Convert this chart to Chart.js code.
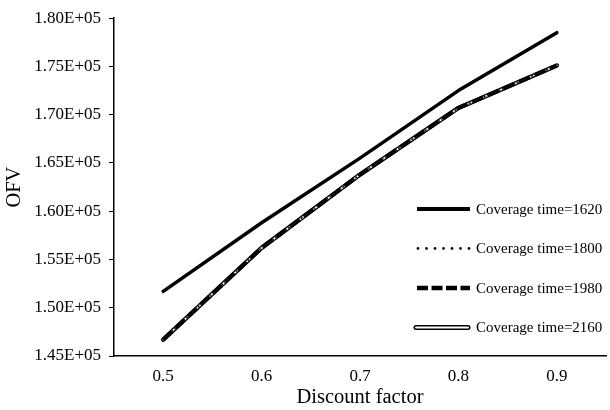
<!DOCTYPE html>
<html>
<head>
<meta charset="utf-8">
<script src="https://cdn.jsdelivr.net/npm/chart.js@4"></script>
<style>
  body { margin: 0; background: #fff; }
  #wrap { width: 610px; height: 410px; }
</style>
</head>
<body>
<div id="wrap"><canvas id="ofvChart" width="610" height="410"></canvas></div>
<script>
// data
const discountFactors = ['0.5', '0.6', '0.7', '0.8', '0.9'];
const ofv1620 = [151700, 158800, 165500, 172500, 178500];
const ofv1800 = [146700, 156200, 163800, 170700, 175100];
const ofv1980 = [146700, 156200, 163800, 170700, 175100];
const ofv2160 = [146700, 156200, 163800, 170700, 175100];
const yMin = 145000, yMax = 180000, yStep = 5000;

const serif = "'Liberation Serif', 'Times New Roman', serif";
Chart.defaults.font.family = serif;
Chart.defaults.color = '#000';

// 1.80E+05 style labels
function sciLabel(v) {
    const exp = Math.floor(Math.log10(Math.abs(v)));
    const mant = (v / Math.pow(10, exp)).toFixed(2);
    return mant + 'E+' + String(exp).padStart(2, '0');
}

// legend drawn inside the plot, on the right
const legendPlugin = {
    id: 'sideLegend',
    afterDraw(chart) {
        const ctx = chart.ctx;
        const items = chart.data.datasets.filter(d => d.legendKind);
        ctx.save();
        items.forEach((d, i) => {
            const y = 209 + i * 39.5;
            const x0 = 417, x1 = 470;
            ctx.lineCap = 'butt';
            ctx.setLineDash([]);
            if (d.legendKind === 'solid') {
                ctx.strokeStyle = '#000';
                ctx.lineWidth = 4;
                ctx.beginPath(); ctx.moveTo(x0, y); ctx.lineTo(x1, y); ctx.stroke();
            } else if (d.legendKind === 'dotted') {
                ctx.fillStyle = '#111';
                for (let x = x0 + 1; x <= x1; x += 8.5) {
                    ctx.beginPath(); ctx.arc(x, y, 1.4, 0, Math.PI * 2); ctx.fill();
                }
            } else if (d.legendKind === 'dashed') {
                ctx.strokeStyle = '#000';
                ctx.lineWidth = 4.5;
                ctx.setLineDash([11, 3.5]);
                ctx.beginPath(); ctx.moveTo(x0, y); ctx.lineTo(x1, y); ctx.stroke();
                ctx.setLineDash([]);
            } else if (d.legendKind === 'double') {
                ctx.lineCap = 'round';
                ctx.strokeStyle = '#000';
                ctx.lineWidth = 5;
                ctx.beginPath(); ctx.moveTo(x0 - 1, y); ctx.lineTo(x1 - 2, y); ctx.stroke();
                ctx.strokeStyle = '#fff';
                ctx.lineWidth = 2;
                ctx.beginPath(); ctx.moveTo(x0 - 1, y); ctx.lineTo(x1 - 2, y); ctx.stroke();
            }
            ctx.fillStyle = '#000';
            ctx.font = '15px ' + serif;
            ctx.textBaseline = 'middle';
            ctx.textAlign = 'left';
            ctx.fillText(d.label, 476, y + 1);
        });
        ctx.restore();
    }
};

const baseLine = {
    pointRadius: 0,
    pointHoverRadius: 0,
    tension: 0,
    fill: false,
    borderCapStyle: 'round',
    borderJoinStyle: 'round'
};

new Chart(document.getElementById('ofvChart'), {
    type: 'line',
    data: {
        labels: discountFactors,
        datasets: [
            { ...baseLine, label: 'Coverage time=1620', legendKind: 'solid', data: ofv1620,
              borderColor: '#000', borderWidth: 3.5, order: 0 },
            { ...baseLine, label: 'Coverage time=1800', legendKind: 'dotted', data: ofv1800,
              borderColor: '#111', borderWidth: 1.5, borderDash: [1, 3], order: 1 },
            { ...baseLine, label: 'Coverage time=1980', legendKind: 'dashed', data: ofv1980,
              borderColor: '#000', borderWidth: 4, borderDash: [12, 5], borderCapStyle: 'butt', order: 2 },
            // double line for 2160: white core over a black outline
            { ...baseLine, label: '2160 core', data: ofv2160,
              borderColor: '#fff', borderWidth: 1.8, order: 3 },
            { ...baseLine, label: 'Coverage time=2160', legendKind: 'double', data: ofv2160,
              borderColor: '#000', borderWidth: 4.5, order: 4 }
        ]
    },
    options: {
        responsive: false,
        animation: false,
        layout: { padding: { left: 0, top: 15, right: 4, bottom: 0 } },
        plugins: {
            legend: { display: false },
            tooltip: { enabled: false }
        },
        scales: {
            x: {
                offset: true,
                border: { color: '#000', width: 1.5 },
                grid: { display: false, drawTicks: false },
                ticks: { padding: 10, font: { size: 17 }, color: '#000' },
                title: { display: true, text: 'Discount factor', font: { size: 20.5 },
                         padding: { top: 0, bottom: 0 }, color: '#000' },
                afterFit: s => { s.height = 54; }
            },
            y: {
                min: yMin,
                max: yMax,
                border: { color: '#000', width: 1.5 },
                grid: { drawOnChartArea: false, drawTicks: true, tickLength: 5, color: '#000' },
                ticks: { stepSize: yStep, padding: 8, font: { size: 17 }, color: '#000',
                         callback: v => sciLabel(v) },
                title: { display: true, text: 'OFV', font: { size: 20.5 },
                         padding: { top: 2, bottom: 0 }, color: '#000' },
                afterFit: s => { s.width = 114; }
            }
        }
    },
    plugins: [legendPlugin]
});
</script>
</body>
</html>
